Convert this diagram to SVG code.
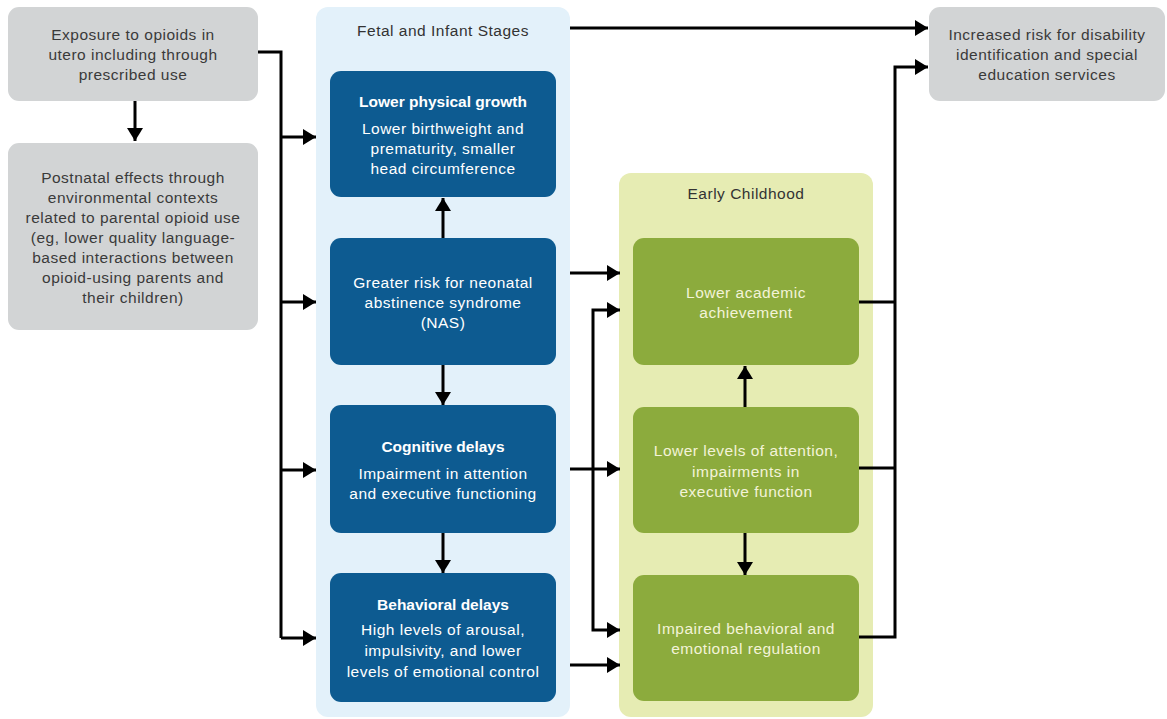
<svg xmlns="http://www.w3.org/2000/svg" width="1167" height="719" viewBox="0 0 1167 719">
<style>
text{font-family:"Liberation Sans",Arial,sans-serif;font-size:15.5px;letter-spacing:0.5px;text-anchor:middle}
.gray rect{fill:#d2d4d5}
.gray text{fill:#3a3a3a}
.blue rect{fill:#0d5b91}
.blue text{fill:#ffffff}
.green rect{fill:#8cab3d}
.green text{fill:#f3f3d8}
.b{font-weight:bold;letter-spacing:0}
.title{fill:#333333}
.conn path{fill:none;stroke:#000;stroke-width:3;marker-end:url(#ah)}
.conn path.plain{marker-end:none}
</style>
<defs>
<marker id="ah" markerUnits="userSpaceOnUse" markerWidth="14" markerHeight="16" refX="13" refY="8" orient="auto">
<path d="M0,0 L13,8 L0,16 z" fill="#000"/>
</marker>
</defs>
<rect width="1167" height="719" fill="#ffffff"/>
<g id="panel-fetal">
<rect x="316" y="7" width="254" height="710" rx="12" fill="#e3f1fa"/>
<text class="title" x="443" y="36">Fetal and Infant Stages</text>
</g>
<g id="panel-early">
<rect x="619" y="173" width="254" height="544" rx="12" fill="#e6ecb3"/>
<text class="title" x="746" y="199">Early Childhood</text>
</g>
<g id="exposure" class="gray">
<rect x="8" y="7" width="250" height="94" rx="11"/>
<text x="133" y="40">Exposure to opioids in</text>
<text x="133" y="60">utero including through</text>
<text x="133" y="80">prescribed use</text>
</g>
<g id="postnatal" class="gray">
<rect x="8" y="143" width="250" height="187" rx="11"/>
<text x="133" y="183">Postnatal effects through</text>
<text x="133" y="203">environmental contexts</text>
<text x="133" y="223">related to parental opioid use</text>
<text x="133" y="243">(eg, lower quality language-</text>
<text x="133" y="263">based interactions between</text>
<text x="133" y="283">opioid-using parents and</text>
<text x="133" y="303">their children)</text>
</g>
<g id="outcome" class="gray">
<rect x="929" y="7" width="236" height="94" rx="11"/>
<text x="1047" y="40">Increased risk for disability</text>
<text x="1047" y="60">identification and special</text>
<text x="1047" y="80">education services</text>
</g>
<g id="growth" class="blue">
<rect x="330" y="71" width="226" height="126" rx="11"/>
<text class="b" x="443" y="107">Lower physical growth</text>
<text x="443" y="134">Lower birthweight and</text>
<text x="443" y="154">prematurity, smaller</text>
<text x="443" y="174">head circumference</text>
</g>
<g id="nas" class="blue">
<rect x="330" y="238" width="226" height="127" rx="11"/>
<text x="443" y="288">Greater risk for neonatal</text>
<text x="443" y="308">abstinence syndrome</text>
<text x="443" y="328">(NAS)</text>
</g>
<g id="cognitive" class="blue">
<rect x="330" y="405" width="226" height="128" rx="11"/>
<text class="b" x="443" y="452">Cognitive delays</text>
<text x="443" y="479">Impairment in attention</text>
<text x="443" y="499">and executive functioning</text>
</g>
<g id="behavioral" class="blue">
<rect x="330" y="573" width="226" height="129" rx="11"/>
<text class="b" x="443" y="610">Behavioral delays</text>
<text x="443" y="635">High levels of arousal,</text>
<text x="443" y="656">impulsivity, and lower</text>
<text x="443" y="677">levels of emotional control</text>
</g>
<g id="academic" class="green">
<rect x="633" y="238" width="226" height="127" rx="11"/>
<text x="746" y="298">Lower academic</text>
<text x="746" y="318">achievement</text>
</g>
<g id="attention" class="green">
<rect x="633" y="407" width="226" height="126" rx="11"/>
<text x="746" y="456">Lower levels of attention,</text>
<text x="746" y="477">impairments in</text>
<text x="746" y="497">executive function</text>
</g>
<g id="regulation" class="green">
<rect x="633" y="575" width="226" height="126" rx="11"/>
<text x="746" y="634">Impaired behavioral and</text>
<text x="746" y="654">emotional regulation</text>
</g>
<g id="connectors" class="conn">
<path class="plain" d="M258,52 H281 V638"/>
<path d="M281,137 H316"/>
<path d="M281,302 H316"/>
<path d="M281,470 H316"/>
<path d="M281,638 H316"/>
<path d="M135,101 V141"/>
<path d="M443,238 V198"/>
<path d="M443,365 V405"/>
<path d="M443,533 V573"/>
<path d="M570,28 H928"/>
<path d="M570,273 H620"/>
<path d="M570,469 H620"/>
<path d="M570,665 H620"/>
<path d="M593,469 V310 H620"/>
<path d="M593,469 V630 H620"/>
<path d="M745,407 V366"/>
<path d="M745,533 V575"/>
<path class="plain" d="M859,302 H895"/>
<path class="plain" d="M859,468 H895"/>
<path d="M859,637 H895 V67 H928"/>
</g>
</svg>
